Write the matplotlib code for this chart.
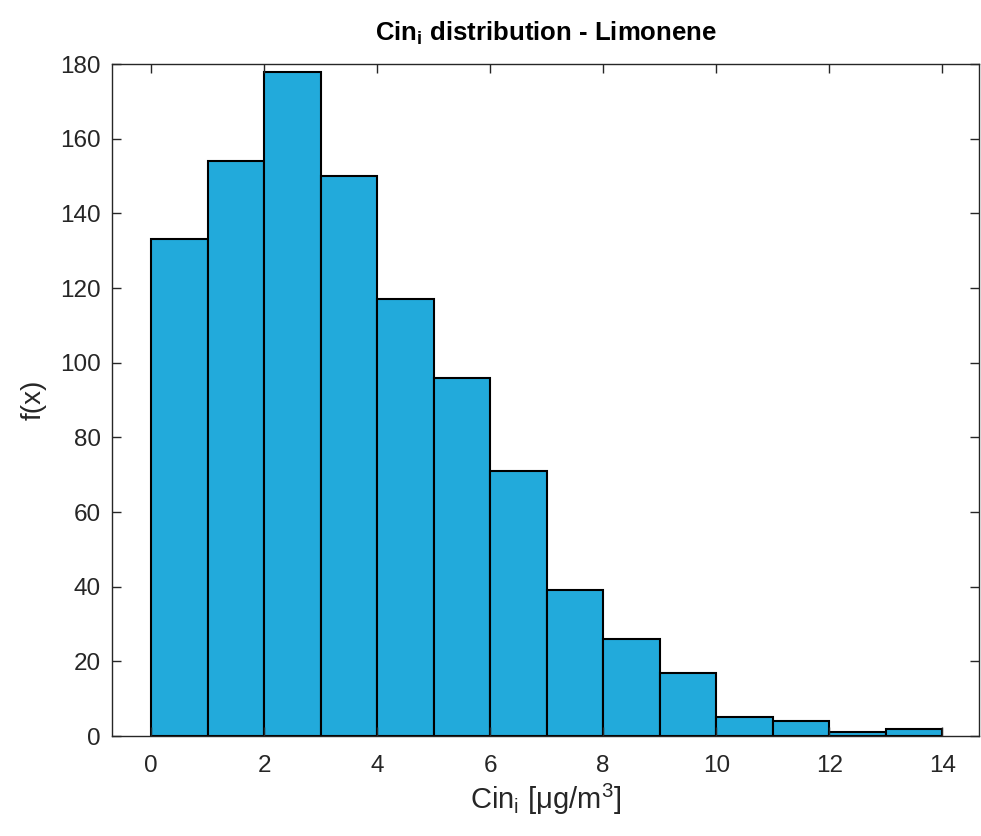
import numpy as np
import matplotlib
matplotlib.use('Agg')
import matplotlib.pyplot as plt

# histogram data
bin_edges = [0, 1, 2, 3, 4, 5, 6, 7, 8, 9, 10, 11, 12, 13, 14]
counts = [133, 154, 178, 150, 117, 96, 71, 39, 26, 17, 5, 4, 1, 2]
x_ticks = [0, 2, 4, 6, 8, 10, 12, 14]
y_ticks = [0, 20, 40, 60, 80, 100, 120, 140, 160, 180]

plt.rcParams['font.family'] = ['Liberation Sans', 'DejaVu Sans']
plt.rcParams['mathtext.fontset'] = 'custom'
plt.rcParams['mathtext.rm'] = 'Liberation Sans'
plt.rcParams['mathtext.bf'] = 'Liberation Sans:bold'

fig = plt.figure(figsize=(9.81, 8.36), dpi=100)
ax = fig.add_axes([0.1142, 0.1196, 0.998 - 0.1142, 0.9234 - 0.1196])

edges = np.array(bin_edges, dtype=float)
ax.bar(edges[:-1], counts, width=np.diff(edges), align='edge',
       color='#22aadb', edgecolor='black', linewidth=1.5)

ax.set_xlim(-0.69, 14.65)
ax.set_ylim(0, 180)
ax.set_xticks(x_ticks)
ax.set_yticks(y_ticks)

gray = '#262626'
for s in ax.spines.values():
    s.set_color(gray)
    s.set_linewidth(1.0)
ax.tick_params(direction='in', length=6.5, width=1.0, color=gray,
               labelcolor=gray, labelsize=17.5, top=True, right=True)
ax.tick_params(axis='x', pad=14)
ax.tick_params(axis='y', pad=8)

ax.set_xlabel(r'Cin$_\mathregular{i}$ [$\mathregular{\mu}$g/m$^\mathregular{3}$]',
              fontsize=21, color=gray, labelpad=3)
ax.set_ylabel('f(x)', fontsize=20, color=gray, labelpad=10)
ax.set_title(r'Cin$_\mathbf{i}$ distribution - Limonene',
             fontsize=18.5, fontweight='bold', pad=17)

fig.savefig('out.png', dpi=100)
